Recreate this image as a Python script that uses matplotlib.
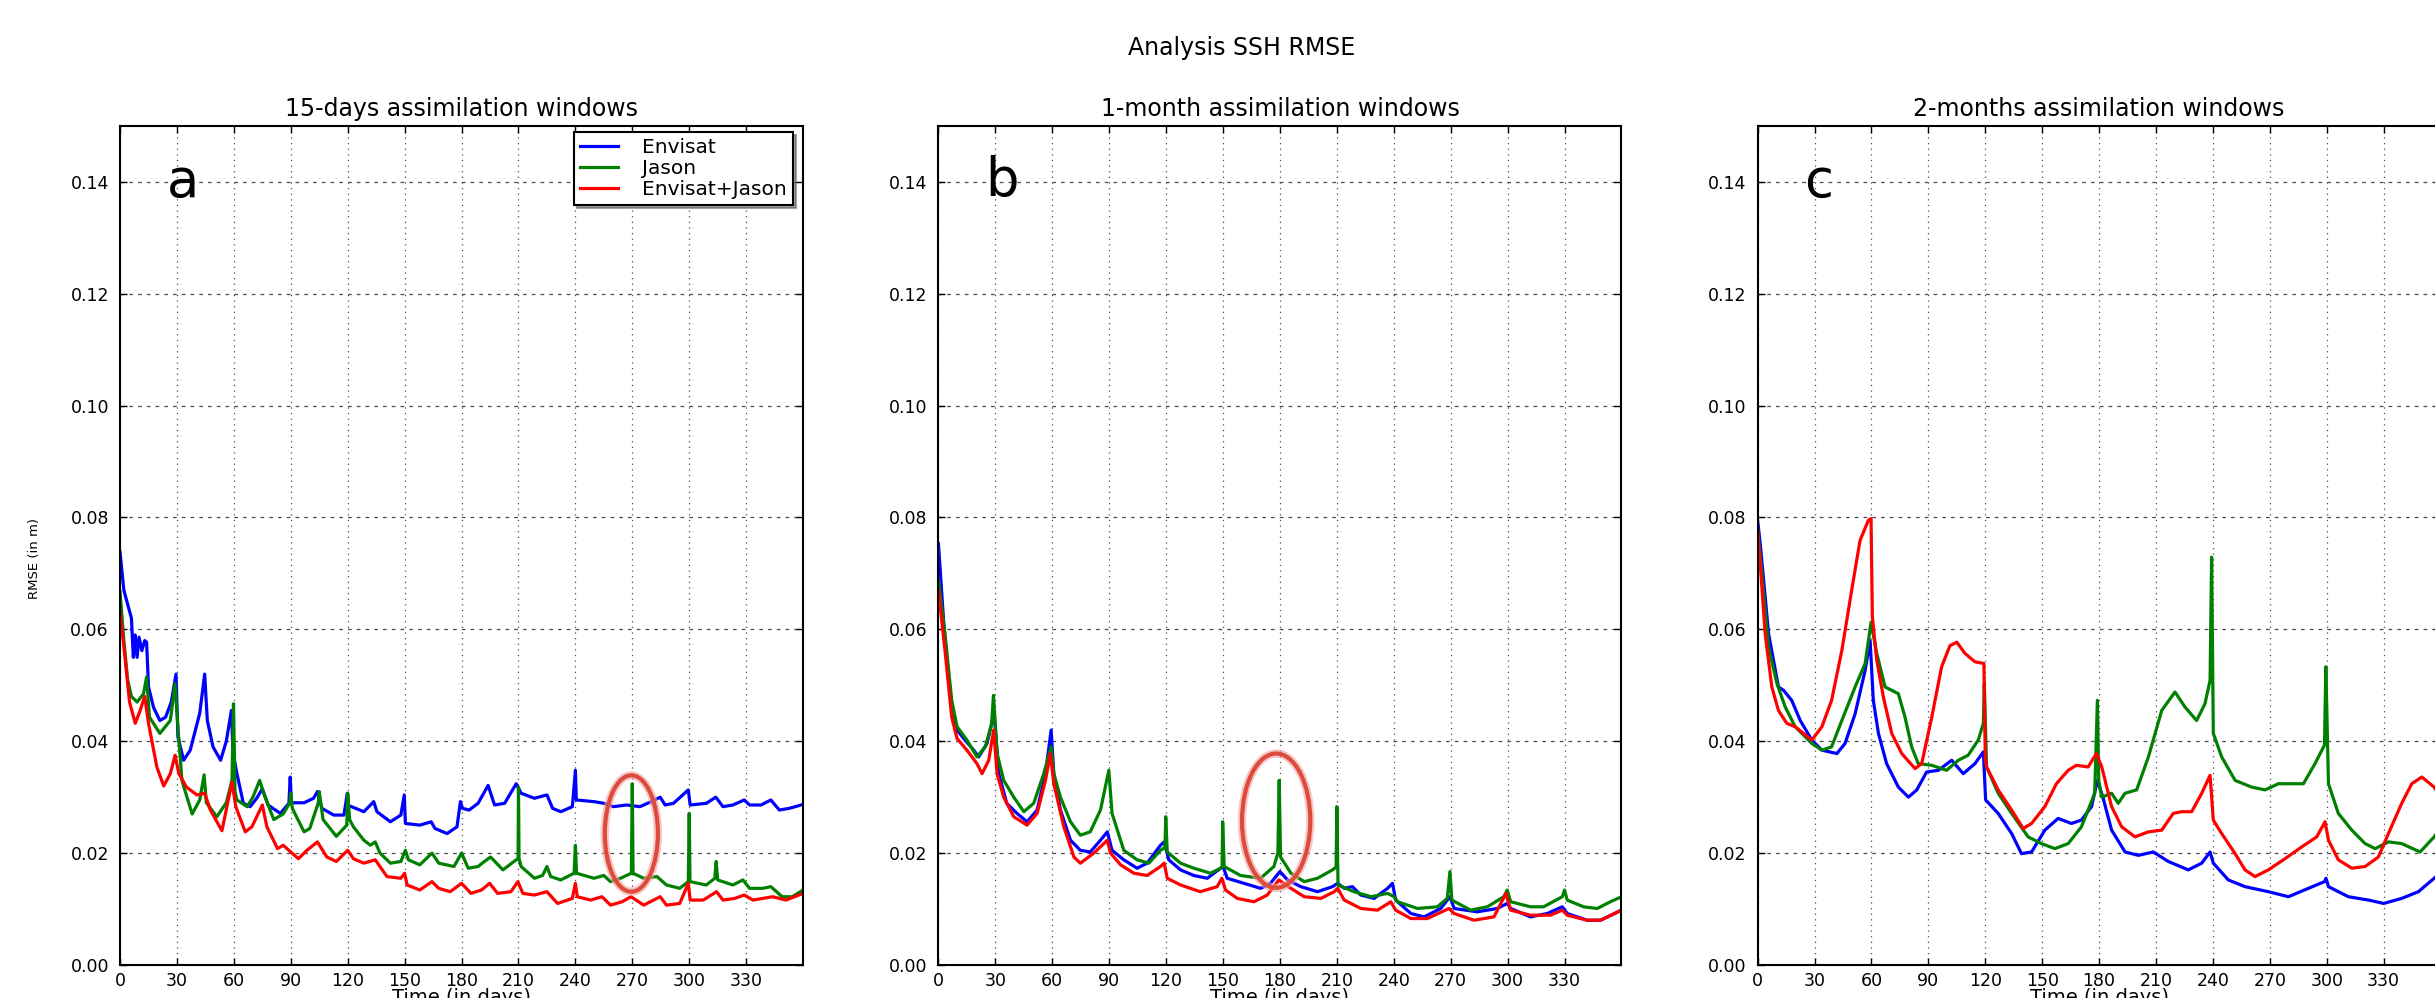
import matplotlib
matplotlib.use("Agg")
import matplotlib.pyplot as plt
import numpy as np
from matplotlib.patches import Ellipse
from matplotlib.ticker import FormatStrFormatter

# RMSE (m) of the analysed SSH, read as (day, value) pairs
# --- 15-days windows
env_15d = [(0, 0.0738), (2, 0.067), (3.6, 0.065), (6, 0.062), (7, 0.055), (8, 0.059),
           (9, 0.055), (10, 0.0586), (11.5, 0.0562), (13, 0.058), (14, 0.0577),
           (15, 0.0497), (17.7, 0.046), (21, 0.0437), (24, 0.0443), (27, 0.047),
           (29.5, 0.052), (30.5, 0.0408), (33.5, 0.0366), (37, 0.0384), (42, 0.045),
           (44.6, 0.052), (46, 0.0437), (49, 0.039), (53, 0.0366), (56, 0.040),
           (58.7, 0.0455), (59.5, 0.038), (61.6, 0.0342), (65, 0.0289), (68.6, 0.0283),
           (72, 0.0298), (75, 0.0315), (78, 0.0286), (84.5, 0.0271), (89, 0.0289),
           (89.7, 0.0336), (90.3, 0.029), (97, 0.029), (102, 0.0298), (104, 0.031),
           (106.4, 0.028), (112.6, 0.0268), (118, 0.0268), (119.8, 0.0307), (120.4, 0.0285),
           (122, 0.0283), (128.5, 0.0274), (133.7, 0.0292), (135.4, 0.0274), (142.5, 0.0256),
           (148, 0.0268), (149.8, 0.0304), (150.4, 0.0253), (158, 0.025), (164, 0.0256),
           (166, 0.0244), (172.4, 0.0235), (177.6, 0.0247), (179.4, 0.0292), (180.5, 0.028),
           (184, 0.0277), (188.7, 0.0289), (194, 0.0321), (197.4, 0.0286), (202.7, 0.0289),
           (208.8, 0.0324), (211.4, 0.0307), (218.4, 0.0298), (225, 0.0304), (228, 0.028),
           (232.3, 0.0274), (238.4, 0.0283), (240, 0.0348), (240.5, 0.0295), (249.8, 0.0292),
           (255, 0.0289), (260, 0.0283), (267, 0.0286), (274, 0.0283), (280, 0.0292),
           (284.7, 0.030), (287.3, 0.0286), (291.7, 0.0289), (299.5, 0.0313), (300.5, 0.0286),
           (309, 0.0289), (314, 0.030), (317.8, 0.0283), (323, 0.0286), (329, 0.0295),
           (331.8, 0.0286), (337.9, 0.0286), (343, 0.0295), (347.5, 0.0277), (352.7, 0.028),
           (360, 0.0287)]
jas_15d = [(0, 0.0667), (2, 0.058), (4, 0.051), (6, 0.048), (9, 0.047), (12.4, 0.0485),
           (14, 0.0515), (15.5, 0.0443), (21, 0.0414), (26.5, 0.0437), (29, 0.0503),
           (30, 0.045), (32.6, 0.033), (38, 0.027), (42, 0.0295), (44.3, 0.034),
           (45.5, 0.029), (51, 0.0265), (56, 0.029), (59, 0.033), (59.8, 0.0467),
           (60.6, 0.031), (61.6, 0.0295), (67, 0.0283), (70, 0.030), (73.6, 0.033),
           (75.7, 0.0307), (81, 0.026), (86, 0.027), (89.5, 0.029), (90, 0.0307),
           (90.8, 0.028), (93, 0.0265), (97, 0.0238), (100, 0.0244), (104.5, 0.029),
           (105, 0.031), (107, 0.026), (114, 0.023), (119.5, 0.025), (120, 0.0307),
           (121, 0.026), (123, 0.0247), (128.5, 0.0223), (132, 0.0214), (134.5, 0.022),
           (137, 0.020), (142.5, 0.0182), (148, 0.0185), (150.4, 0.0205), (152, 0.0188),
           (158, 0.0179), (164.4, 0.020), (168, 0.0182), (176, 0.0176), (180, 0.020),
           (183.5, 0.0173), (188.7, 0.0176), (192, 0.0185), (195.3, 0.0193), (201.8, 0.017),
           (208.8, 0.0188), (209.8, 0.019), (210, 0.0318), (210.3, 0.019), (211.4, 0.0176),
           (218.4, 0.0155), (222.7, 0.016), (225, 0.0176), (227, 0.0158), (232.3, 0.0152),
           (239.3, 0.0164), (240, 0.0214), (240.6, 0.0164), (249.8, 0.0155), (255, 0.016),
           (258.5, 0.0149), (263.8, 0.0155), (269.5, 0.0164), (270, 0.0324), (270.4, 0.0164),
           (276, 0.0155), (283, 0.0158), (288, 0.0143), (295, 0.0137), (299.5, 0.0149),
           (300, 0.0271), (300.4, 0.0149), (309, 0.0143), (313.5, 0.0155), (314.2, 0.0185),
           (315, 0.0152), (323, 0.0143), (328.3, 0.0152), (331.8, 0.0137), (338.8, 0.0137),
           (343, 0.014), (349, 0.0122), (354.3, 0.0122), (360, 0.0134)]
both_15d = [(0, 0.063), (2, 0.057), (5, 0.047), (8, 0.0432), (10.6, 0.0455), (13, 0.048),
            (15, 0.0432), (19.4, 0.0354), (23, 0.032), (26.5, 0.0342), (29, 0.0375),
            (31, 0.0342), (35, 0.0318), (40.5, 0.0304), (44.6, 0.0307), (47.6, 0.0277),
            (53.7, 0.024), (59, 0.0327), (61, 0.0283), (66, 0.0238), (69.5, 0.0247),
            (75, 0.0286), (77.4, 0.0247), (83, 0.0208), (86, 0.0214), (90.6, 0.020),
            (94, 0.019), (98.5, 0.0205), (104, 0.022), (109, 0.0193), (114, 0.0185),
            (120, 0.0205), (123, 0.019), (128.5, 0.0182), (134.5, 0.0188), (140.7, 0.0158),
            (148, 0.0155), (150, 0.0164), (151.3, 0.0143), (158, 0.0134), (164.4, 0.0149),
            (168, 0.0137), (174, 0.0131), (180, 0.0146), (185, 0.0128), (190.5, 0.0134),
            (194.8, 0.0146), (199, 0.0128), (206, 0.0131), (209.7, 0.0149), (212.3, 0.0128),
            (218.4, 0.0125), (225, 0.0131), (230.6, 0.011), (238.4, 0.0119), (240, 0.0146),
            (241, 0.0122), (248, 0.0116), (254, 0.0122), (258.5, 0.0107), (264.6, 0.0113),
            (269.3, 0.0122), (276, 0.0107), (284.7, 0.0122), (288, 0.0107), (295, 0.011),
            (299.5, 0.0146), (300.5, 0.0116), (307.4, 0.0116), (314.4, 0.0131), (317.8, 0.0116),
            (324, 0.0119), (329, 0.0125), (333.6, 0.0116), (344, 0.0122), (351, 0.0116),
            (360, 0.0128)]

# --- 1-month windows
env_1m = [(0, 0.0753), (2.7, 0.0616), (4.5, 0.0545), (7, 0.0461), (9.8, 0.042), (14, 0.0402),
          (18.6, 0.0384), (21.2, 0.0372), (25.6, 0.0396), (28.8, 0.0443), (29.6, 0.044),
          (31.8, 0.0342), (36, 0.0289), (41.4, 0.0271), (46.7, 0.0256), (52, 0.0277),
          (56.4, 0.0342), (59.4, 0.042), (60.8, 0.0342), (64.3, 0.0277), (69.6, 0.0223),
          (74.8, 0.0205), (80, 0.0202), (85.4, 0.0223), (89, 0.0238), (91.5, 0.0205),
          (97.7, 0.0188), (104.7, 0.0173), (110, 0.0182), (117, 0.0214), (119, 0.022),
          (121.4, 0.0188), (127.6, 0.017), (134.6, 0.016), (141.7, 0.0155), (148.7, 0.0173),
          (150, 0.0176), (152.2, 0.0155), (161, 0.0146), (169.8, 0.0137), (175, 0.0146),
          (180, 0.0167), (184, 0.0152), (191, 0.014), (199.8, 0.0131), (207.7, 0.014),
          (210.4, 0.0146), (213.9, 0.0137), (218.2, 0.014), (222.6, 0.0125), (229.6, 0.0119),
          (236.7, 0.0137), (239.3, 0.0146), (241, 0.0116), (249, 0.0092), (256, 0.0086),
          (264.7, 0.0101), (269.6, 0.0122), (271.8, 0.0101), (284, 0.0095), (294.6, 0.0101),
          (299.8, 0.011), (301.6, 0.0101), (312, 0.0086), (320.9, 0.0092), (328.8, 0.0104),
          (331.4, 0.0092), (341.9, 0.008), (349, 0.008), (360, 0.0098)]
jas_1m = [(0, 0.0688), (3.6, 0.0586), (7, 0.0473), (9.8, 0.0426), (15, 0.0402), (20.3, 0.0372),
          (24.7, 0.039), (28, 0.043), (29, 0.0482), (30.9, 0.0378), (34.4, 0.033),
          (39.7, 0.030), (45, 0.0274), (50.2, 0.0289), (55.5, 0.0342), (59.4, 0.039),
          (60.8, 0.0342), (64.3, 0.030), (69.6, 0.0256), (74.8, 0.0232), (80, 0.0238),
          (85.4, 0.0277), (89.8, 0.0348), (91.5, 0.0271), (97.7, 0.0205), (104.7, 0.0188),
          (110.9, 0.0182), (117, 0.0205), (119.4, 0.021), (119.8, 0.0265), (120.6, 0.0202),
          (127.6, 0.0182), (134.6, 0.0173), (143.4, 0.0164), (148.7, 0.0173), (149.5, 0.0175),
          (149.8, 0.0256), (150.6, 0.0176), (159.2, 0.016), (169.8, 0.0155), (176.8, 0.0176),
          (178.9, 0.020), (179.6, 0.033), (180.3, 0.0193), (185.8, 0.0164), (192.8, 0.0149),
          (199.8, 0.0155), (207.7, 0.017), (209.6, 0.0175), (210, 0.0283), (210.6, 0.0143),
          (219, 0.0131), (228, 0.0122), (236.7, 0.0128), (240.2, 0.0122), (242, 0.0113),
          (252.5, 0.0101), (263, 0.0104), (268.2, 0.0119), (269.6, 0.0167), (270.6, 0.0116),
          (280.5, 0.0098), (289.3, 0.0104), (298, 0.0122), (299.8, 0.0134), (301.6, 0.0113),
          (312, 0.0104), (319, 0.0104), (328.8, 0.0122), (330, 0.0134), (331.4, 0.0116),
          (340, 0.0104), (347.2, 0.0101), (354.2, 0.0113), (360, 0.0122)]
both_1m = [(0, 0.067), (3.6, 0.0557), (7, 0.0443), (9.8, 0.0405), (15, 0.0384), (20.3, 0.036),
           (23, 0.0342), (26.5, 0.0366), (29.1, 0.042), (30.9, 0.0342), (34.4, 0.030),
           (39.7, 0.0265), (46.7, 0.025), (52, 0.0271), (56.4, 0.033), (59, 0.0378),
           (60.8, 0.0324), (66.1, 0.0247), (71.4, 0.0193), (74.8, 0.0182), (81.9, 0.020),
           (89, 0.0223), (90.7, 0.020), (96, 0.0179), (103, 0.0164), (110, 0.016),
           (117, 0.0176), (119, 0.0182), (120.6, 0.0155), (127.6, 0.0143), (138, 0.0131),
           (146.9, 0.014), (149.4, 0.0155), (151.3, 0.0134), (157.5, 0.0119), (166.3, 0.0113),
           (173.3, 0.0125), (179.4, 0.0152), (185.8, 0.0137), (192.8, 0.0122), (201.6, 0.0119),
           (208.6, 0.0131), (210.4, 0.0137), (213.9, 0.0116), (222.6, 0.0101), (231.4, 0.0098),
           (238.4, 0.0113), (241, 0.0098), (249, 0.0083), (257.7, 0.0083), (269.1, 0.0101),
           (271.8, 0.0092), (282.3, 0.008), (292.8, 0.0086), (299.1, 0.0128), (301.6, 0.0098),
           (312, 0.0089), (322.6, 0.0089), (328.8, 0.0098), (331.4, 0.0089), (341.9, 0.008),
           (349, 0.008), (360, 0.0098)]

# --- 2-months windows
env_2m = [(0, 0.0795), (1.4, 0.0753), (5.8, 0.0592), (11, 0.0497), (13.7, 0.0491), (18, 0.0473),
          (22.5, 0.0437), (28.6, 0.0402), (33.9, 0.0384), (41.8, 0.0378), (46.1, 0.0396),
          (51.4, 0.0449), (56.7, 0.0527), (59.3, 0.058), (61, 0.0473), (63.7, 0.0414),
          (68, 0.036), (74.2, 0.0318), (79.5, 0.030), (83.9, 0.0313), (89.1, 0.0345),
          (95.3, 0.0348), (102.3, 0.0366), (108.4, 0.0342), (114.6, 0.036), (119, 0.0381),
          (120.2, 0.0295), (126.8, 0.0271), (133.9, 0.0235), (139.1, 0.0199), (144.4, 0.0202),
          (151.4, 0.0241), (158.4, 0.0262), (165.4, 0.0253), (170.7, 0.0259), (176, 0.0283),
          (179.1, 0.033), (182, 0.030), (186.6, 0.0241), (193.7, 0.0202), (200.7, 0.0196),
          (208.6, 0.0202), (216.5, 0.0185), (227, 0.017), (234.1, 0.0182), (238.5, 0.0202),
          (240.2, 0.0182), (248.1, 0.0152), (256.9, 0.014), (269.2, 0.0131), (279.8, 0.0122),
          (290.3, 0.0137), (298.8, 0.0149), (299.6, 0.0155), (300.9, 0.014), (311.4, 0.0122),
          (322, 0.0116), (330, 0.011), (339.5, 0.0119), (348.3, 0.0131), (356.6, 0.0155),
          (360, 0.0165)]
jas_2m = [(0, 0.078), (1.4, 0.073), (5.8, 0.0568), (10.2, 0.0503), (14.6, 0.0461), (19.8, 0.0426),
          (28.6, 0.0396), (33.9, 0.0384), (39, 0.039), (44.4, 0.0437), (51.4, 0.0497),
          (56.7, 0.0539), (59.8, 0.0613), (62.8, 0.0557), (67.2, 0.0497), (70.7, 0.0491),
          (74.2, 0.0485), (77.7, 0.0443), (81.2, 0.039), (84.7, 0.036), (91.8, 0.0357),
          (99.6, 0.0348), (105.8, 0.0366), (111, 0.0375), (116.3, 0.0402), (119, 0.0432),
          (119.5, 0.0503), (120.7, 0.0354), (126.8, 0.0307), (133.9, 0.0271), (142.6, 0.0229),
          (149.6, 0.0217), (156.7, 0.0208), (163.7, 0.0217), (170.7, 0.0247), (177.7, 0.0307),
          (179.1, 0.0473), (179.8, 0.033), (181.4, 0.030), (186.6, 0.0307), (190.1, 0.0289),
          (193.7, 0.0307), (199.8, 0.0313), (206, 0.0372), (213, 0.0455), (220, 0.0488),
          (225.3, 0.0461), (231.4, 0.0437), (235.8, 0.0467), (238.5, 0.0509), (239.3, 0.0729),
          (240.2, 0.0414), (244.6, 0.0372), (251.7, 0.033), (260.4, 0.0318), (267.5, 0.0313),
          (274.5, 0.0324), (281.5, 0.0324), (287.7, 0.0324), (293.8, 0.036), (298.8, 0.0393),
          (299.5, 0.0533), (300.9, 0.0324), (306.1, 0.0271), (313.2, 0.0241), (320.2, 0.0217),
          (325.5, 0.0208), (332.5, 0.022), (339.5, 0.0217), (349.2, 0.0202), (356.6, 0.0229),
          (360, 0.0245)]
both_2m = [(0, 0.078), (1.4, 0.0717), (4, 0.0592), (7.5, 0.0497), (11, 0.0455), (15.4, 0.0432),
           (19.8, 0.0426), (24.2, 0.0414), (28.6, 0.0402), (33.9, 0.0426), (39, 0.0473),
           (44.4, 0.0562), (49.6, 0.067), (54, 0.0759), (58.4, 0.0795), (59.8, 0.0798),
           (60.5, 0.0622), (62.8, 0.0545), (66.3, 0.0479), (70.7, 0.0414), (76, 0.0378),
           (83, 0.0351), (86.5, 0.036), (91.8, 0.0443), (97, 0.0533), (101.4, 0.0571),
           (105, 0.0577), (109.3, 0.0557), (114.6, 0.0542), (119.3, 0.0539), (120, 0.037),
           (120.7, 0.0354), (126.8, 0.0313), (133.9, 0.0277), (140, 0.0244), (144.4, 0.0253),
           (151.4, 0.0283), (157.5, 0.0324), (163.7, 0.0348), (168, 0.0357), (174.2, 0.0354),
           (178.6, 0.0378), (181.4, 0.0354), (186.6, 0.0283), (191.9, 0.0247), (198.9, 0.0229),
           (206, 0.0238), (213, 0.0241), (219.1, 0.0271), (223.5, 0.0274), (228.8, 0.0274),
           (234.1, 0.0307), (238.5, 0.0339), (240.2, 0.0259), (244.6, 0.0235), (251.7, 0.0199),
           (256.9, 0.017), (262.2, 0.0158), (269.2, 0.017), (278, 0.019), (286.8, 0.0211),
           (294.7, 0.0229), (299.1, 0.0256), (300.9, 0.0223), (306.1, 0.0188), (313.2, 0.0173),
           (320.2, 0.0176), (327.2, 0.0193), (332.5, 0.0235), (339.5, 0.0289), (344.8, 0.0324),
           (350.1, 0.0336), (356.6, 0.0318), (360, 0.030)]

series_names = ["Envisat", "Jason", "Envisat+Jason"]
series_colors = ["#0000ff", "#008000", "#ff0000"]
panel_titles = ["15-days assimilation windows", "1-month assimilation windows",
                "2-months assimilation windows"]
panel_letters = ["a", "b", "c"]
panel_data = [[env_15d, jas_15d, both_15d],
              [env_1m, jas_1m, both_1m],
              [env_2m, jas_2m, both_2m]]
# spikes circled in red: (centre day, centre rmse, width in days, height in m)
highlights = {0: (269.5, 0.0235, 28, 0.0208), 1: (178, 0.0258, 36, 0.024)}

x_ticks = np.arange(0, 331, 30)
y_ticks = np.arange(0, 0.141, 0.02)

fig = plt.figure(figsize=(24.35, 9.98), dpi=100)
lefts = [0.0493, 0.3854, 0.7218]

for i, left in enumerate(lefts):
    ax = fig.add_axes([left, 0.0331, 0.2805, 0.8407])
    for data, name, col in zip(panel_data[i], series_names, series_colors):
        days, rmse = np.array(data).T
        ax.plot(days, rmse, color=col, lw=2.3, label=name)

    ax.set_xlim(0, 360)
    ax.set_ylim(0, 0.15)
    ax.set_xticks(x_ticks)
    ax.set_yticks(y_ticks)
    ax.yaxis.set_major_formatter(FormatStrFormatter("%.2f"))
    ax.tick_params(direction="in", top=True, right=True, length=5, width=1,
                   labelsize=12.5)
    ax.tick_params(axis="y", pad=8)
    ax.tick_params(axis="x", pad=5)
    ax.xaxis.grid(True, color="0.3", lw=0.9, linestyle=(0, (1, 3.5)))
    ax.yaxis.grid(True, color="0.3", lw=0.9, linestyle=(0, (3, 4)))
    for sp in ax.spines.values():
        sp.set_linewidth(1.5)

    ax.set_title(panel_titles[i], fontsize=17, pad=7)
    ax.set_xlabel("Time (in days)", fontsize=14, labelpad=-1.5)
    ax.text(0.068, 0.916, panel_letters[i], transform=ax.transAxes,
            fontsize=38, va="baseline", ha="left")

    if i in highlights:
        cx, cy, w, h = highlights[i]
        ax.add_patch(Ellipse((cx, cy), w, h, fill=False, ec="#f2a39c",
                             lw=6, alpha=0.6, zorder=5))
        ax.add_patch(Ellipse((cx, cy), w, h, fill=False, ec="#dd4b3e",
                             lw=3, zorder=6))

    if i == 0:
        ax.set_ylabel("RMSE (in m)", fontsize=9.5)
        ax.yaxis.set_label_coords(-0.116, 0.484)
        leg = ax.legend(loc="upper right", bbox_to_anchor=(0.3257, 0.8677),
                        bbox_transform=fig.transFigure, borderaxespad=0,
                        fontsize=14.5, fancybox=False, shadow=True,
                        handlelength=1.9, handletextpad=1.2, labelspacing=0.1,
                        borderpad=0.3)
        leg.get_frame().set_edgecolor("black")
        leg.get_frame().set_linewidth(1.5)

fig.text(0.51, 0.952, "Analysis SSH RMSE", ha="center", va="center", fontsize=17)

fig.savefig("out.png", dpi=100)
